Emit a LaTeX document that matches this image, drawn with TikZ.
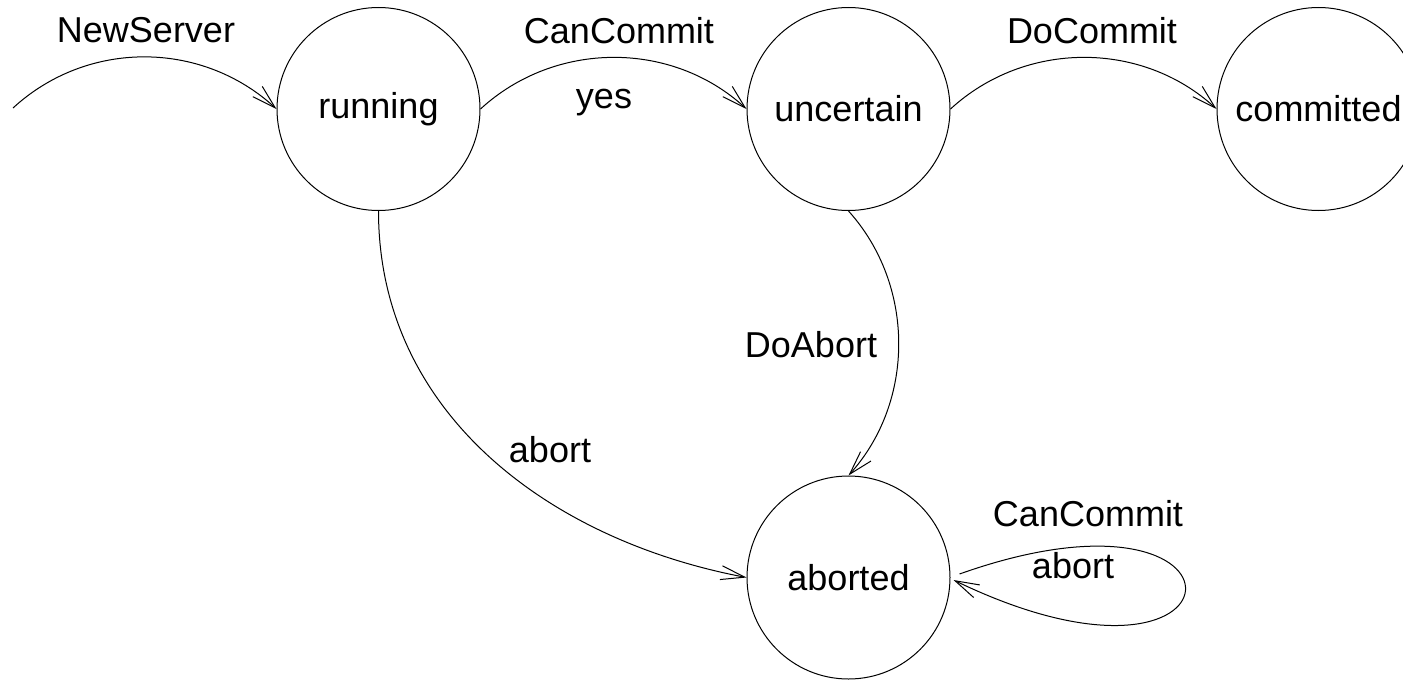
\documentclass[tikz,border=0pt]{standalone}
\usepackage{fontspec}
\setmainfont{Liberation Sans}
\usetikzlibrary{arrows.meta,calc}
\begin{document}
\begin{tikzpicture}[x=0.5pt,y=-0.5pt,
  every node/.style={font=\fontsize{18}{21}\selectfont},
  state/.style={circle,draw,line width=0.5pt,minimum size=101.5pt,inner sep=0pt},
  trans/.style={line width=0.5pt,-{Straight Barb[length=12pt,width=7pt,line width=0.5pt]}},
  lbl/.style={anchor=base,inner sep=0pt}]
\useasboundingbox (0,0) rectangle (1403,680);

% states
\node[state] (running)   at (378.5,109) {running};
\node[state] (uncertain) at (848.5,109) {uncertain};
\node[state] (committed) at (1318.5,109) {committed};
\node[state] (aborted)   at (848.5,577.5) {aborted};

% free end of the initial transition
\coordinate (init) at (13,108);

% top row of transitions
\draw[trans] (init) .. controls ($(init)+(74.6,-68.6)$) and ($(running.west)+(-74.6,-68.6)$) .. (running.west);
\draw[trans] (running.east) .. controls ($(running.east)+(74.6,-68.6)$) and ($(uncertain.west)+(-74.6,-68.6)$) .. (uncertain.west);
\draw[trans] (uncertain.east) .. controls ($(uncertain.east)+(74.6,-68.6)$) and ($(committed.west)+(-74.6,-68.6)$) .. (committed.west);

% transitions to aborted
\draw[trans] (running.south) .. controls ($(running.south)+(0,200)$) and ($(aborted.west)+(-200,-38)$) .. (aborted.west);
\draw[trans] (uncertain.south) .. controls ($(uncertain.south)+(66.7,74)$) and ($(aborted.north)+(66.7,-74)$) .. (aborted.north);

% self loop on aborted
\coordinate (loopout) at ($(aborted.east)+(9,-3.5)$);
\coordinate (loopin)  at ($(aborted.east)+(3,2.5)$);
\draw[trans] (loopout) .. controls ($(loopout)+(310,-110)$) and ($(loopin)+(300,145)$) .. (loopin);

% labels
\node[lbl] (lnew)  at (146,42)   {NewServer};
\node[lbl] (lcan)  at (619,43)   {CanCommit};
\node[lbl] (lyes)  at (604,108)  {yes};
\node[lbl] (ldoc)  at (1092,43)  {DoCommit};
\node[lbl] (ldoa)  at (811,357)  {DoAbort};
\node[lbl] (labt)  at (550,462)  {abort};
\node[lbl] (lcan2) at (1088,526) {CanCommit};
\node[lbl] (labt2) at (1073,578) {abort};
\end{tikzpicture}
\end{document}
